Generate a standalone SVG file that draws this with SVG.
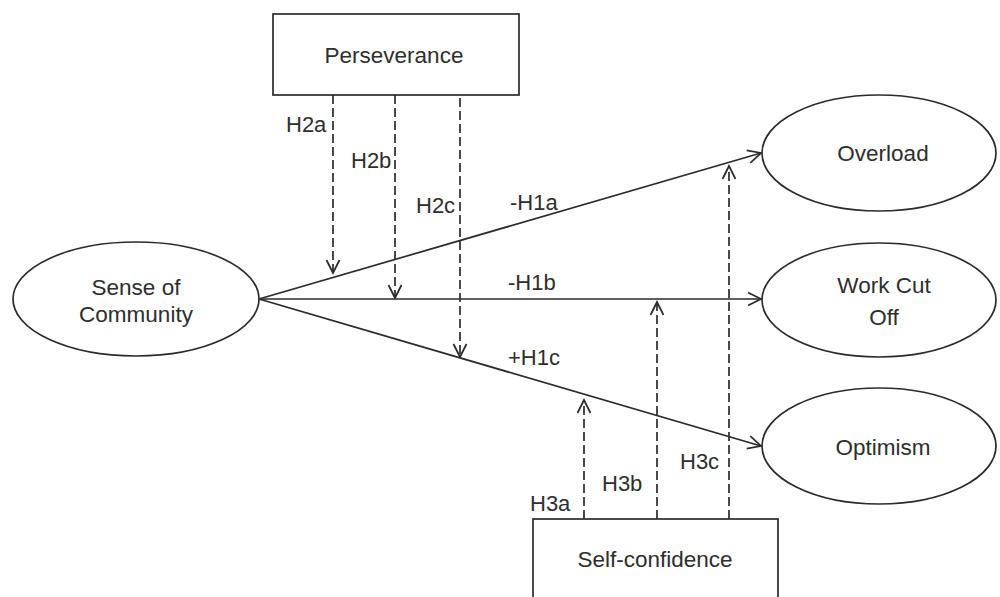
<svg xmlns="http://www.w3.org/2000/svg" width="1000" height="597" viewBox="0 0 1000 597">
<style>
.shape{fill:#fff;stroke:#2b2b2b;stroke-width:1.7}
.t{font-family:"Liberation Sans",Arial,sans-serif;font-size:22.5px;fill:#2e2e2e;text-anchor:middle}
.l{font-family:"Liberation Sans",Arial,sans-serif;font-size:22px;fill:#2e2e2e}
.solid{stroke:#2b2b2b;stroke-width:1.7;fill:none;marker-end:url(#arr)}
.dash{stroke:#2b2b2b;stroke-width:1.7;fill:none;stroke-dasharray:9 4;marker-end:url(#arr)}
</style>
<defs>
<marker id="arr" markerUnits="userSpaceOnUse" markerWidth="18" markerHeight="18" refX="14" refY="8" orient="auto">
<path d="M1,1.5 L14,8 L1,14.5" fill="none" stroke="#2b2b2b" stroke-width="1.7"/>
</marker>
</defs>
<rect width="1000" height="597" fill="#fff"/>
<g id="perseverance">
<rect class="shape" x="273" y="14" width="246" height="81"/>
<text class="t" x="394" y="63">Perseverance</text>
</g>
<g id="sense-of-community">
<ellipse class="shape" cx="136" cy="299" rx="123" ry="57"/>
<text class="t" x="136" y="295">Sense of</text>
<text class="t" x="136" y="322">Community</text>
</g>
<g id="overload">
<ellipse class="shape" cx="879" cy="153" rx="117" ry="58"/>
<text class="t" x="883" y="161">Overload</text>
</g>
<g id="work-cut-off">
<ellipse class="shape" cx="879" cy="300" rx="117" ry="57"/>
<text class="t" x="884" y="293">Work Cut</text>
<text class="t" x="884" y="325">Off</text>
</g>
<g id="optimism">
<ellipse class="shape" cx="879" cy="446" rx="117" ry="58"/>
<text class="t" x="883" y="455">Optimism</text>
</g>
<g id="self-confidence">
<rect class="shape" x="533" y="519" width="245" height="90"/>
<text class="t" x="655" y="567">Self-confidence</text>
</g>
<g id="connectors">
<line class="solid" x1="259" y1="299" x2="761" y2="153"/>
<line class="solid" x1="259" y1="299" x2="761" y2="299"/>
<line class="solid" x1="259" y1="299" x2="761" y2="446"/>
<line class="dash" x1="333" y1="95" x2="333" y2="273"/>
<line class="dash" x1="395" y1="95" x2="395" y2="298"/>
<line class="dash" x1="460" y1="98" x2="460" y2="357"/>
<line class="dash" x1="584" y1="519" x2="584" y2="400"/>
<line class="dash" x1="657" y1="519" x2="657" y2="302"/>
<line class="dash" x1="729" y1="519" x2="729" y2="166"/>
<text class="l" x="510" y="210">-H1a</text>
<text class="l" x="508" y="290">-H1b</text>
<text class="l" x="508" y="365">+H1c</text>
<text class="l" x="286" y="132">H2a</text>
<text class="l" x="351" y="168">H2b</text>
<text class="l" x="416" y="213">H2c</text>
<text class="l" x="530" y="511">H3a</text>
<text class="l" x="602" y="491">H3b</text>
<text class="l" x="680" y="469">H3c</text>
</g>
</svg>
